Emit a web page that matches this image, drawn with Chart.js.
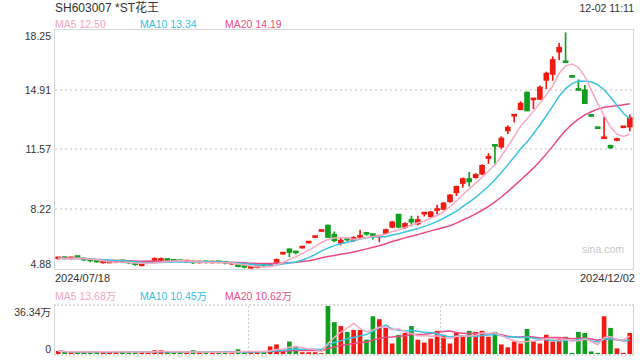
<!DOCTYPE html>
<html><head><meta charset="utf-8">
<script src="https://cdn.jsdelivr.net/npm/chart.js@4.4.1/dist/chart.umd.min.js"></script>
<style>
html,body{margin:0;padding:0;background:#fff;width:640px;height:360px;overflow:hidden;font-family:"Liberation Sans",Arial,"Noto Sans CJK SC",sans-serif;color:#333}
.t{position:absolute;white-space:nowrap;line-height:12px;font-size:10.5px}
#mainBox{position:absolute;left:54px;top:29px;width:578px;height:239px;border:1px solid #d6d6d6}
#volBox{position:absolute;left:54px;top:304px;width:578px;height:48px;border-left:1px solid #d6d6d6;border-right:1px solid #d6d6d6;border-top:2px dotted #dcdcdc;border-bottom:2px dotted #dcdcdc}
.cv{position:relative;width:578px;height:100%}
</style></head>
<body>
<div class="t" style="left:55px;top:2px;font-size:12px;">SH603007 *ST花王</div>
<div class="t" style="right:6px;top:2px;">12-02 11:11</div>
<div class="t" style="left:55px;top:18px;color:#f7a3c0;">MA5 12.50</div>
<div class="t" style="left:140px;top:18px;color:#34c1e0;">MA10 13.34</div>
<div class="t" style="left:225px;top:18px;color:#ee4f86;">MA20 14.19</div>
<div class="t" style="left:582px;top:243px;color:#c8c8c8;">sina.com</div>
<div class="t" style="left:55px;top:272px;font-size:11px;">2024/07/18</div>
<div class="t" style="right:5px;top:272px;font-size:11px;">2024/12/02</div>
<div class="t" style="left:55px;top:290px;color:#f7a3c0;">MA5 13.68万</div>
<div class="t" style="left:140px;top:290px;color:#34c1e0;">MA10 10.45万</div>
<div class="t" style="left:225px;top:290px;color:#ee4f86;">MA20 10.62万</div>
<div id="mainBox"><div class="cv"><canvas id="c1"></canvas></div></div>
<div id="volBox"><div class="cv"><canvas id="c2"></canvas></div></div>
<div id="ylabels"></div>
<script>
const categories = [
'2024/07/18','2024/07/19','2024/07/22','2024/07/23','2024/07/24','2024/07/25','2024/07/26','2024/07/29','2024/07/30','2024/07/31',
'2024/08/01','2024/08/02','2024/08/05','2024/08/06','2024/08/07','2024/08/08','2024/08/09','2024/08/12','2024/08/13','2024/08/14',
'2024/08/15','2024/08/16','2024/08/19','2024/08/20','2024/08/21','2024/08/22','2024/08/23','2024/08/26','2024/08/27','2024/08/28',
'2024/08/29','2024/08/30','2024/09/02','2024/09/04','2024/09/05','2024/09/06','2024/09/09','2024/09/10','2024/09/11','2024/09/12',
'2024/09/13','2024/09/18','2024/09/19','2024/09/20','2024/09/23','2024/09/24','2024/09/25','2024/09/26','2024/09/27','2024/09/30',
'2024/10/08','2024/10/09','2024/10/10','2024/10/11','2024/10/14','2024/10/15','2024/10/16','2024/10/17','2024/10/18','2024/10/21',
'2024/10/22','2024/10/23','2024/10/24','2024/10/25','2024/10/28','2024/10/29','2024/10/30','2024/10/31','2024/11/01','2024/11/04',
'2024/11/05','2024/11/06','2024/11/07','2024/11/08','2024/11/11','2024/11/12','2024/11/13','2024/11/14','2024/11/15','2024/11/18',
'2024/11/19','2024/11/20','2024/11/21','2024/11/22','2024/11/25','2024/11/26','2024/11/27','2024/11/28','2024/11/29','2024/12/02'];

const openP = [5.45,5.48,5.45,5.54,5.41,5.35,5.37,5.22,5.22,5.24,
5.30,5.23,5.20,5.06,5.21,5.36,5.36,5.43,5.33,5.31,
5.27,5.25,5.22,5.24,5.22,5.24,5.22,5.15,5.10,4.98,
4.92,4.95,5.06,5.07,5.25,5.71,6.01,5.80,6.05,6.33,
6.64,6.98,7.34,6.83,6.31,6.52,6.46,6.65,6.83,6.76,
6.66,6.87,7.21,7.95,7.21,7.67,7.39,7.95,7.80,8.15,
8.21,8.64,9.14,9.66,9.94,9.99,10.18,11.06,11.75,11.70,
12.60,13.43,13.79,14.78,14.34,14.37,15.43,15.77,17.01,16.43,
15.61,14.88,14.91,13.43,12.74,12.17,11.80,12.07,12.78,12.82];
const highP = [5.50,5.50,5.50,5.55,5.44,5.37,5.38,5.24,5.24,5.27,
5.31,5.24,5.22,5.17,5.23,5.52,5.50,5.45,5.34,5.32,
5.29,5.27,5.24,5.25,5.24,5.25,5.24,5.17,5.11,5.01,
4.94,5.01,5.09,5.12,5.45,5.72,6.01,5.86,6.06,6.34,
6.65,6.99,7.34,6.96,6.59,6.56,6.70,7.06,6.88,6.79,
6.74,7.12,7.55,7.95,7.48,7.84,7.84,8.05,8.10,8.45,
8.60,9.05,9.51,9.98,10.29,10.22,10.72,11.34,11.83,12.28,
12.90,13.46,14.24,14.78,14.37,15.12,15.90,16.76,17.51,18.10,
15.61,15.47,15.15,13.43,12.74,13.38,11.82,12.20,12.79,13.51];
const lowP = [5.43,5.44,5.43,5.50,5.34,5.28,5.25,5.21,5.21,5.22,
5.27,5.19,5.08,5.05,5.20,5.35,5.35,5.35,5.29,5.27,
5.26,5.18,5.21,5.21,5.21,5.21,5.16,5.14,5.00,4.93,
4.92,4.94,5.02,5.05,5.22,5.71,5.57,5.72,6.05,6.33,
6.64,6.98,6.64,6.40,6.22,6.44,6.40,6.60,6.76,6.55,
6.40,6.85,7.18,7.18,7.15,7.28,7.35,7.84,7.78,7.95,
8.18,8.60,8.98,9.45,9.51,9.95,10.15,10.78,10.78,11.62,
12.45,13.10,13.79,13.72,13.85,14.37,14.97,15.43,16.58,16.42,
15.60,14.87,14.13,13.42,12.73,12.17,11.63,12.05,12.78,12.60];
const closeP = [5.48,5.46,5.47,5.52,5.38,5.33,5.27,5.23,5.23,5.25,
5.28,5.21,5.12,5.16,5.22,5.38,5.38,5.36,5.31,5.29,
5.28,5.22,5.23,5.23,5.23,5.23,5.20,5.16,5.01,4.97,
4.93,4.97,5.05,5.10,5.42,5.72,5.80,5.78,6.06,6.34,
6.65,6.99,6.64,6.46,6.50,6.50,6.65,6.77,6.82,6.75,
6.72,7.09,7.52,7.21,7.43,7.50,7.65,7.96,8.08,8.17,
8.58,9.03,9.51,9.94,9.75,10.18,10.68,11.19,11.74,12.21,
12.82,13.44,14.16,13.72,14.35,15.06,15.84,16.60,17.29,16.42,
15.60,14.87,14.13,13.42,12.73,12.18,11.65,12.12,12.79,13.35];
// volume in 万 (10k shares)
const volume = [2.1,1.6,1.6,1.6,1.6,1.6,2.1,1.6,1.6,1.6,
1.6,1.6,1.6,1.6,0.9,2.6,2.6,1.6,0.9,1.6,
0.9,2.6,1.6,0.9,0.9,1.6,1.6,0.9,3.3,1.6,
1.6,1.6,1.6,5.5,7.0,2.1,9.2,5.0,1.1,1.1,
1.1,0.4,36.34,23.9,20.9,16.5,18.0,18.0,10.6,28.3,
26.1,19.5,7.7,14.3,15.7,20.9,10.6,8.4,11.4,17.3,
14.3,7.7,15.7,13.6,17.3,16.5,17.3,12.8,16.5,7.0,
4.8,9.2,7.7,18.7,9.2,7.7,14.3,9.2,11.4,12.8,
0.6,16.5,15.7,1.7,0.6,28.3,19.5,4.0,0.6,15.7];

const priceTicks = [4.88, 8.22, 11.57, 14.91, 18.25];
const volTicks = [0, 36.34];
const volTickLabels = ['0', '36.34万'];
const maPeriods = [5, 10, 20];
const maColors = ['#f9a8c4', '#3ac4e3', '#eb4a83'];
const UP = '#f21a10', DOWN = '#0f9e1d';

function movingAvg(arr, n) {
  return arr.map((_, i) => {
    const s = Math.max(0, i - n + 1);
    let t = 0;
    for (let k = s; k <= i; k++) t += arr[k];
    return t / (i - s + 1);
  });
}
const colors = closeP.map((c, i) => c >= openP[i] ? UP : DOWN);

const gridPlugin = {
  id: 'grid',
  beforeDatasetsDraw(chart, args, opts) {
    const ctx = chart.ctx, a = chart.chartArea;
    ctx.save();
    if (opts.h) {
      ctx.strokeStyle = '#e0e0e0'; ctx.lineWidth = 2; ctx.setLineDash([2, 3]);
      opts.h.forEach(v => {
        const y = Math.round(chart.scales.y.getPixelForValue(v));
        ctx.beginPath(); ctx.moveTo(a.left, y); ctx.lineTo(a.right, y); ctx.stroke();
      });
    }
    if (opts.v) {
      ctx.strokeStyle = '#cfcfcf'; ctx.lineWidth = 1; ctx.setLineDash([2, 2]);
      opts.v.forEach(i => {
        const xs = chart.scales.x;
        const x = Math.round((xs.getPixelForValue(i - 1) + xs.getPixelForValue(i)) / 2) + 0.5;
        ctx.beginPath(); ctx.moveTo(x, a.top); ctx.lineTo(x, a.bottom); ctx.stroke();
      });
    }
    ctx.restore();
  }
};

const common = {
  responsive: true, maintainAspectRatio: false, animation: false, events: [],
  layout: { padding: 0 },
  plugins: { legend: { display: false }, tooltip: { enabled: false } }
};

const mainChart = new Chart(document.getElementById('c1'), {
  type: 'bar',
  data: {
    labels: categories,
    datasets: [
      ...maPeriods.map((n, k) => ({
        type: 'line', data: movingAvg(closeP, n), borderColor: maColors[k],
        borderWidth: 1.5, pointRadius: 0, fill: false, tension: 0, order: 0
      })),
      { data: openP.map((o, i) => [o, closeP[i]]), backgroundColor: colors,
        barThickness: 5, minBarLength: 2, grouped: false, order: 1 },
      { data: lowP.map((l, i) => [l, highP[i]]), backgroundColor: colors,
        barThickness: 1, grouped: false, order: 2 }
    ]
  },
  options: Object.assign({}, common, {
    scales: {
      x: { display: false, offset: true },
      y: { display: false, min: priceTicks[0], max: priceTicks[priceTicks.length - 1] }
    },
    plugins: Object.assign({}, common.plugins, { grid: { h: priceTicks.slice(1, -1) } })
  }),
  plugins: [gridPlugin]
});

const volChart = new Chart(document.getElementById('c2'), {
  type: 'bar',
  data: {
    labels: categories,
    datasets: [
      ...maPeriods.map((n, k) => ({
        type: 'line', data: movingAvg(volume, n), borderColor: maColors[k],
        borderWidth: 1.5, pointRadius: 0, fill: false, tension: 0, order: 0
      })),
      { data: volume, backgroundColor: colors, barThickness: 4, grouped: false, order: 1 }
    ]
  },
  options: Object.assign({}, common, {
    scales: {
      x: { display: false, offset: true },
      y: { display: false, min: volTicks[0], max: volTicks[1] }
    },
    plugins: Object.assign({}, common.plugins, { grid: { v: [30, 60] } })
  }),
  plugins: [gridPlugin]
});

// axis tick labels as HTML text, placed with the charts' own scales
const holder = document.getElementById('ylabels');
function addLabel(text, yCenter) {
  const d = document.createElement('div');
  d.className = 't';
  d.style.right = (640 - 51) + 'px';
  d.style.top = (yCenter - 6) + 'px';
  d.textContent = text;
  holder.appendChild(d);
}
const mainTop = 30, volTop = 306;
priceTicks.forEach((v, i) => {
  let y = mainTop + mainChart.scales.y.getPixelForValue(v);
  if (i === 0) y -= 5.5;
  if (i === priceTicks.length - 1) y += 5.5;
  addLabel(v.toFixed(2), y);
});
volTicks.forEach((v, i) => {
  let y = volTop + volChart.scales.y.getPixelForValue(v);
  if (i === 0) y -= 5.5; else y += 6;
  addLabel(volTickLabels[i], y);
});
</script>
</body></html>
